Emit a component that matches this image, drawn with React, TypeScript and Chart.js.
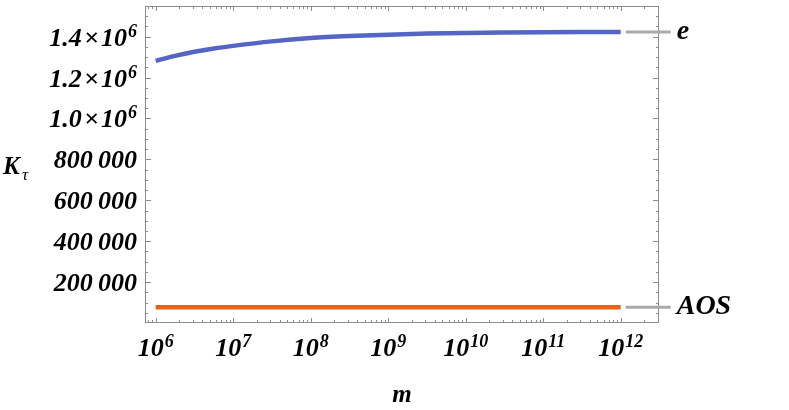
import React, { useEffect, useRef } from "react";
import { Chart, registerables } from "chart.js";

Chart.register(...registerables);

// ---- data ----
const mValues = [
  1e6, 1.78e6, 3.16e6, 5.62e6, 1e7, 3.16e7, 1e8, 3.16e8, 1e9, 3.16e9, 1e10,
  3.16e10, 1e11, 3.16e11, 1e12,
];
const eValues = [
  1282000, 1306000, 1326000, 1342000, 1355000, 1377000, 1393000, 1403000,
  1410000, 1415000, 1418000, 1420000, 1421500, 1422500, 1423000,
];
const aosValues = [
  77000, 77000, 77000, 77000, 77000, 77000, 77000, 77000, 77000, 77000, 77000,
  77000, 77000, 77000, 77000,
];
const seriesLabels = ["e", "AOS"];
const seriesColors = ["#5565C6", "#E8621C"];
const xTickValues = [1e6, 1e7, 1e8, 1e9, 1e10, 1e11, 1e12];
const xTickExps = ["6", "7", "8", "9", "10", "11", "12"];
const yTickValues = [200000, 400000, 600000, 800000, 1000000, 1200000, 1400000];
const xTitle = "m";
const yTitle = "K";
const yTitleSub = "τ";

const FONT = "'Liberation Serif', 'Times New Roman', serif";
const FRAME = "#8c8c8c";
const BASE_FONT = `italic bold 26px ${FONT}`;
const EXP_FONT = `italic bold 18px ${FONT}`;

// returns [base, exponent]
function fmtY(v: number): [string, string] {
  if (v >= 1e6) return [(v / 1e6).toFixed(1) + "\u200A×\u200A10", "6"];
  const s = String(Math.round(v));
  return [s.slice(0, s.length - 3) + "\u2009" + s.slice(s.length - 3), ""];
}

function drawSup(ctx: any, base: string, exp: string, x: number, y: number, align: "left" | "right" | "center") {
  ctx.font = BASE_FONT;
  const wb = ctx.measureText(base).width;
  ctx.font = EXP_FONT;
  const we = exp ? ctx.measureText(exp).width + 1 : 0;
  const total = wb + we;
  let x0 = x;
  if (align === "right") x0 = x - total;
  else if (align === "center") x0 = x - total / 2;
  ctx.textAlign = "left";
  ctx.textBaseline = "alphabetic";
  ctx.font = BASE_FONT;
  ctx.fillText(base, x0, y);
  if (exp) {
    ctx.font = EXP_FONT;
    ctx.fillText(exp, x0 + wb + 1, y - 9);
  }
}

const framePlugin = {
  id: "frameTicks",
  afterDatasetsDraw(chart: any) {
    const { ctx, chartArea: a, scales } = chart;
    const xs = scales.x;
    const ys = scales.y;
    ctx.save();
    ctx.strokeStyle = FRAME;
    ctx.lineWidth = 1;
    ctx.strokeRect(a.left + 0.5, a.top + 0.5, a.right - a.left - 1, a.bottom - a.top - 1);
    ctx.beginPath();
    for (let e = 5; e <= 12; e++) {
      for (let k = 1; k <= 9; k++) {
        const v = k * Math.pow(10, e);
        const px = xs.getPixelForValue(v);
        if (px < a.left + 1 || px > a.right - 1) continue;
        const len = k === 1 ? 5 : 3;
        const x = Math.round(px) + 0.5;
        ctx.moveTo(x, a.bottom);
        ctx.lineTo(x, a.bottom - len);
        ctx.moveTo(x, a.top);
        ctx.lineTo(x, a.top + len);
      }
    }
    for (let v = 0; v <= 1550000; v += 50000) {
      const py = ys.getPixelForValue(v);
      if (py < a.top + 1 || py > a.bottom - 1) continue;
      const len = v % 200000 === 0 ? 6 : 3;
      const y = Math.round(py) + 0.5;
      ctx.moveTo(a.left, y);
      ctx.lineTo(a.left + len, y);
      ctx.moveTo(a.right, y);
      ctx.lineTo(a.right - len, y);
    }
    ctx.stroke();

    // tick labels
    ctx.fillStyle = "#000";
    xTickValues.forEach((v, i) => {
      const px = xs.getPixelForValue(v);
      drawSup(ctx, "10", xTickExps[i], px, a.bottom + 33, "center");
    });
    yTickValues.forEach((v) => {
      const py = ys.getPixelForValue(v);
      const [b, e] = fmtY(v);
      drawSup(ctx, b, e, a.left - 8, py + 9, "right");
    });

    // callout labels
    chart.data.datasets.forEach((ds: any, i: number) => {
      const meta = chart.getDatasetMeta(i);
      const pt = meta.data[meta.data.length - 1];
      if (!pt) return;
      ctx.strokeStyle = "#aaaaaa";
      ctx.lineWidth = 3;
      ctx.beginPath();
      ctx.moveTo(pt.x + 5, pt.y);
      ctx.lineTo(pt.x + 50, pt.y);
      ctx.stroke();
      ctx.fillStyle = "#000";
      ctx.font = `italic bold 28px ${FONT}`;
      ctx.textBaseline = "middle";
      ctx.textAlign = "left";
      ctx.fillText(ds.label, pt.x + 56, pt.y);
    });

    // axis titles
    ctx.fillStyle = "#000";
    ctx.textBaseline = "alphabetic";
    ctx.textAlign = "center";
    ctx.font = `italic bold 25px ${FONT}`;
    ctx.fillText(xTitle, (a.left + a.right) / 2, 402);
    ctx.textAlign = "left";
    ctx.fillText(yTitle, 3, 174);
    ctx.font = `italic 17px ${FONT}`;
    ctx.fillText(yTitleSub, 22, 180);
    ctx.restore();
  },
};

export default function App() {
  const ref = useRef<HTMLCanvasElement | null>(null);
  useEffect(() => {
    if (!ref.current) return;
    const chart = new Chart(ref.current, {
      type: "line",
      data: {
        datasets: [
          {
            label: seriesLabels[0],
            data: mValues.map((m, i) => ({ x: m, y: eValues[i] })),
            borderColor: seriesColors[0],
            borderWidth: 4.5,
            pointRadius: 0,
            cubicInterpolationMode: "monotone",
            fill: false,
          },
          {
            label: seriesLabels[1],
            data: mValues.map((m, i) => ({ x: m, y: aosValues[i] })),
            borderColor: seriesColors[1],
            borderWidth: 4.5,
            pointRadius: 0,
            fill: false,
          },
        ],
      },
      options: {
        animation: false,
        responsive: false,
        devicePixelRatio: 1,
        layout: { padding: { left: 0, top: 6, right: 130, bottom: 0 } },
        plugins: { legend: { display: false }, tooltip: { enabled: false } },
        scales: {
          x: {
            type: "logarithmic",
            min: 7.28e5,
            max: 3.12e12,
            grid: { display: false, drawTicks: false },
            border: { display: false },
            afterBuildTicks: (s: any) => {
              s.ticks = xTickValues.map((v) => ({ value: v }));
            },
            afterFit: (s: any) => {
              s.height = 87;
              s.paddingLeft = 0;
              s.paddingRight = 0;
            },
            ticks: { display: false, autoSkip: false },
          },
          y: {
            type: "linear",
            min: 0,
            max: 1550000,
            grid: { display: false, drawTicks: false },
            border: { display: false },
            afterBuildTicks: (s: any) => {
              s.ticks = yTickValues.map((v) => ({ value: v }));
            },
            afterFit: (s: any) => {
              s.width = 145;
              s.paddingTop = 0;
              s.paddingBottom = 0;
            },
            ticks: { display: false, autoSkip: false },
          },
        },
      },
      plugins: [framePlugin],
    });
    return () => chart.destroy();
  }, []);
  return (
    <div style={{ position: "absolute", left: 0, top: 0, width: 789, height: 410, background: "#fff" }}>
      <canvas ref={ref} width={789} height={410} style={{ display: "block", width: 789, height: 410 }} />
    </div>
  );
}
